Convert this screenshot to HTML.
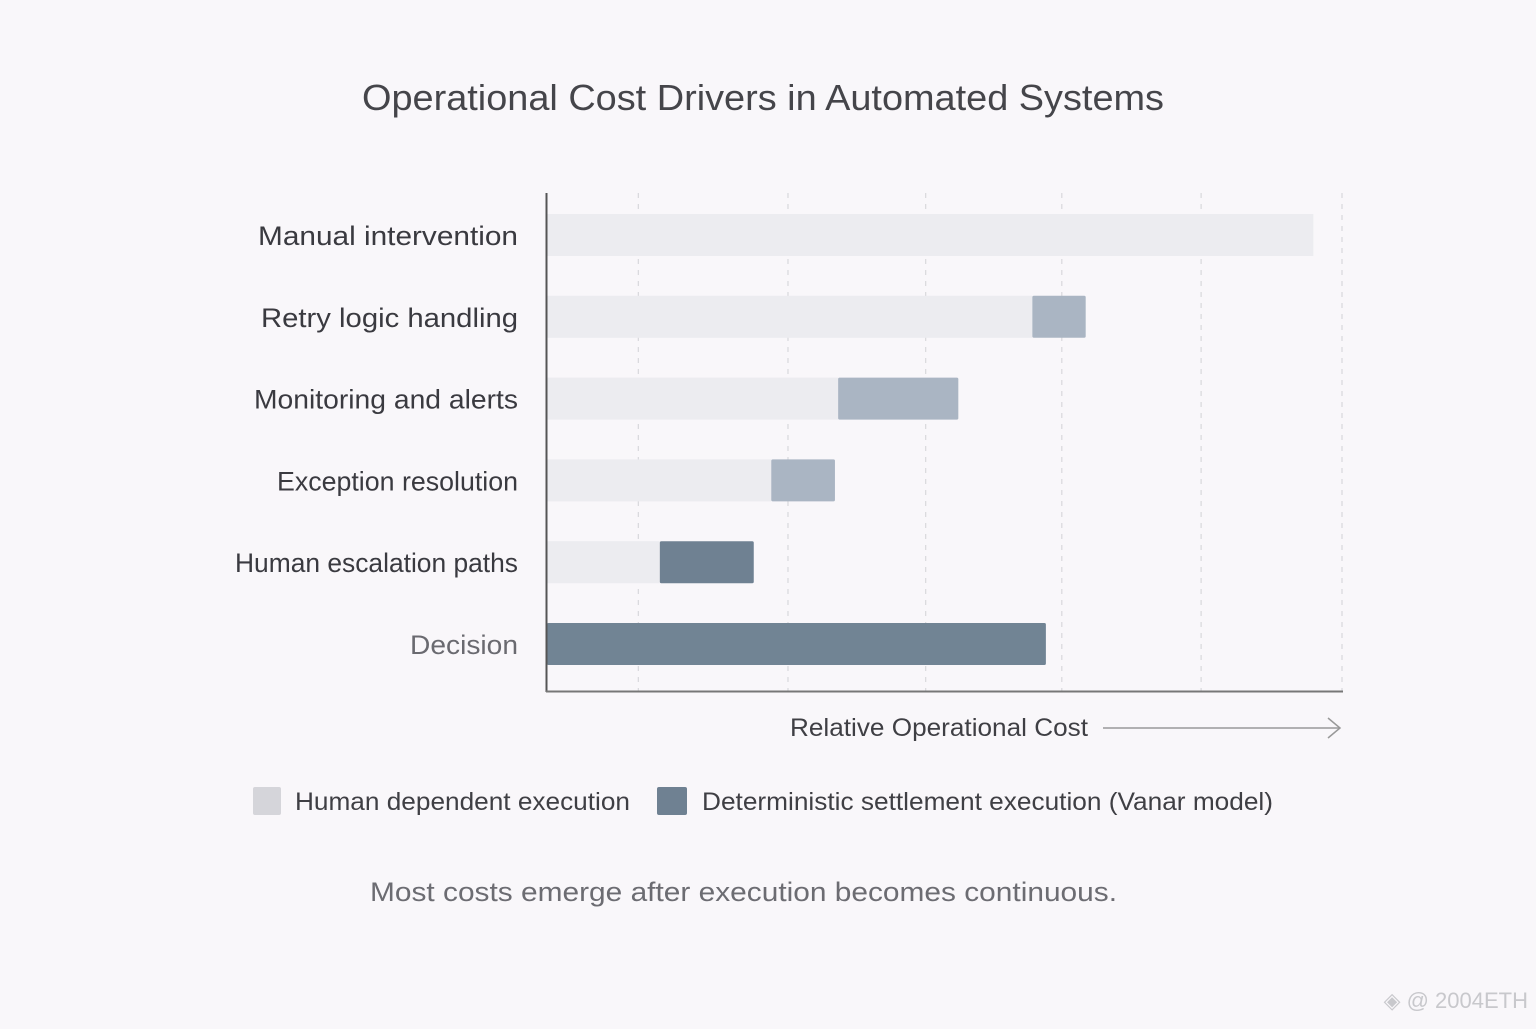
<!DOCTYPE html>
<html><head><meta charset="utf-8">
<style>
html,body{margin:0;padding:0;background:#f9f7fa;}
body{width:1536px;height:1024px;overflow:hidden;font-family:"Liberation Sans",sans-serif;}
</style></head>
<body>
<svg id="chart" width="1536" height="1024" xmlns="http://www.w3.org/2000/svg">
<rect width="1536" height="1024" fill="#f9f7fa"/>
<text x="362" y="110" textLength="802" lengthAdjust="spacingAndGlyphs" font-size="36" fill="#45454a">Operational Cost Drivers in Automated Systems</text>
<g id="grid"></g>
<g id="bars"></g>
<g id="labels"></g>
<line x1="546.5" y1="193" x2="546.5" y2="692" stroke="#555" stroke-width="2"/>
<line x1="546" y1="691.5" x2="1343" y2="691.5" stroke="#777" stroke-width="2"/>
<text x="790" y="736" textLength="298" lengthAdjust="spacingAndGlyphs" font-size="25" fill="#3f3f44">Relative Operational Cost</text>
<g stroke="#999" stroke-width="1.5" fill="none">
<line x1="1103" y1="728" x2="1340" y2="728"/>
<polyline points="1328,718 1340,728 1328,738"/>
</g>
<g>
<rect x="253" y="787" width="28" height="28" rx="2" fill="#d5d5da"/>
<text x="295" y="810" textLength="335" lengthAdjust="spacingAndGlyphs" font-size="25" fill="#3f3f44">Human dependent execution</text>
<rect x="657" y="787" width="30" height="28" rx="2" fill="#6f8192"/>
<text x="702" y="810" textLength="571" lengthAdjust="spacingAndGlyphs" font-size="25" fill="#3f3f44">Deterministic settlement execution (Vanar model)</text>
</g>
<text x="370" y="901" textLength="747" lengthAdjust="spacingAndGlyphs" font-size="27" fill="#6c6c72">Most costs emerge after execution becomes continuous.</text>
<text x="1528" y="1008" text-anchor="end" font-size="22" fill="#c8c8cc">◈ @ 2004ETH</text>
</svg>
<script>
const categories=["Manual intervention","Retry logic handling","Monitoring and alerts","Exception resolution","Human escalation paths","Decision"];
const humanValues=[96.4,61.1,36.7,28.3,14.3,0];
const deterministicValues=[0,6.7,15.1,8.0,11.8,62.8];
const gridValues=[11.6,30.4,47.7,64.8,82.3,100];
const detColors=["#aab5c3","#aab5c3","#aab5c3","#aab5c3","#6f8192","#718494"];
const labelWidths=[260,257,264,241,283,108];
const NS="http://www.w3.org/2000/svg";
const X0=546,X1=1342,DMAX=100;
function xs(v){return X0+(v/DMAX)*(X1-X0);}
const bandTop=193,bandStep=81.8,barH=42;
function yc(i){return bandTop+42+i*bandStep;}
function mk(t,a,p){const e=document.createElementNS(NS,t);for(const k in a)e.setAttribute(k,a[k]);p.appendChild(e);return e;}
const grid=document.getElementById('grid'),bars=document.getElementById('bars'),labels=document.getElementById('labels');
gridValues.forEach((g,i)=>{
 const l=mk('line',{x1:xs(g),x2:xs(g),y1:193,y2:691,stroke:'#d8d8dc','stroke-width':1.2,'stroke-dasharray':'5,6'},grid);
 
 
});
categories.forEach((c,i)=>{
 const y=yc(i)-barH/2;
 if(humanValues[i]>0){
  const r=mk('rect',{x:xs(0)+1,y:y,width:xs(humanValues[i])-xs(0)-1,height:barH,fill:'#ececf0'},bars);
  
  
 }
 if(deterministicValues[i]>0){
  const s=humanValues[i],e=s+deterministicValues[i];
  const r=mk('rect',{x:xs(s)+(s>0?0:1),y:y,width:xs(e)-xs(s)-(s>0?0:1),height:barH,fill:detColors[i],rx:1.5},bars);
  
  
 }
 const t=mk('text',{x:518-labelWidths[i],y:yc(i)+10,textLength:labelWidths[i],lengthAdjust:'spacingAndGlyphs','font-size':27,fill:i===5?'#6a6a70':'#3a3a40'},labels);
 t.textContent=c;
 
 
});
</script>
</body></html>
